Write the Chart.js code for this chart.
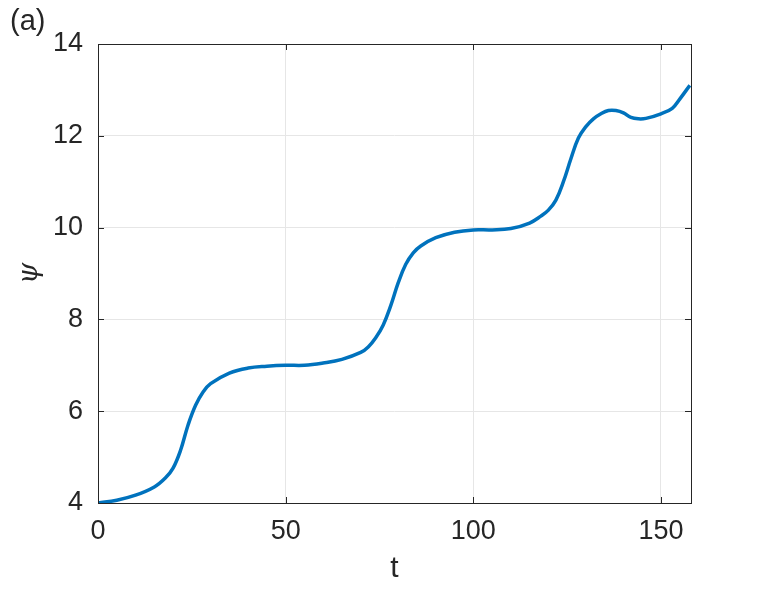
<!DOCTYPE html>
<html>
<head>
<meta charset="utf-8">
<script src="https://cdn.jsdelivr.net/npm/chart.js@4.4.0/dist/chart.umd.min.js"></script>
<style>
  html, body { margin: 0; padding: 0; background: #fff; }
  #wrap { width: 763px; height: 589px; }
</style>
</head>
<body>
<div id="wrap"><canvas id="psiChart" width="763" height="589"></canvas></div>
<script>
// values
var tValues = [0, 5, 10, 15, 18, 20, 22, 24, 26, 28, 30, 35, 40, 45, 50, 55, 60, 65, 70, 72, 74, 76, 78, 80, 82, 84, 86, 90, 95, 100, 105, 110, 115, 118, 120, 122, 124, 126, 128, 130, 132, 134, 136, 138, 140, 142, 144, 146, 150, 153, 155, 157.7];
var psiValues = [4.0, 4.06, 4.17, 4.35, 4.55, 4.76, 5.15, 5.7, 6.13, 6.42, 6.6, 6.83, 6.94, 6.98, 7.0, 7.0, 7.05, 7.13, 7.28, 7.4, 7.6, 7.88, 8.3, 8.8, 9.2, 9.45, 9.6, 9.78, 9.9, 9.95, 9.95, 9.98, 10.1, 10.25, 10.38, 10.6, 11.0, 11.5, 11.95, 12.2, 12.37, 12.48, 12.55, 12.55, 12.5, 12.4, 12.37, 12.38, 12.48, 12.6, 12.8, 13.1];
var xTicks = [0, 50, 100, 150];
var yTicks = [4, 6, 8, 10, 12, 14];

var points = tValues.map(function(t, i) { return {x: t, y: psiValues[i]}; });

var fontFamily = '"Liberation Sans", Arial, Helvetica, sans-serif';
var axisColor = '#262626';

// box around the axes, inward ticks and the texts
var boxPlugin = {
    id: 'matlabBox',
    afterDraw: function(chart) {
        var ctx = chart.ctx;
        var a = chart.chartArea;
        var xs = chart.scales.x, ys = chart.scales.y;
        ctx.save();
        ctx.strokeStyle = axisColor;
        ctx.lineWidth = 1;
        ctx.strokeRect(a.left + 0.5, a.top + 0.5, a.right - a.left, a.bottom - a.top);
        ctx.beginPath();
        xTicks.forEach(function(v) {
            var px = Math.round(xs.getPixelForValue(v)) + 0.5;
            ctx.moveTo(px, a.bottom); ctx.lineTo(px, a.bottom - 6);
            ctx.moveTo(px, a.top); ctx.lineTo(px, a.top + 6);
        });
        yTicks.forEach(function(v) {
            var py = Math.round(ys.getPixelForValue(v)) + 0.5;
            ctx.moveTo(a.left, py); ctx.lineTo(a.left + 6, py);
            ctx.moveTo(a.right, py); ctx.lineTo(a.right - 6, py);
        });
        ctx.stroke();

        ctx.fillStyle = axisColor;
        ctx.textAlign = 'center';
        ctx.textBaseline = 'middle';
        ctx.font = '30px ' + fontFamily;
        ctx.fillText('t', (a.left + a.right) / 2, 569);
        ctx.font = 'italic 27px "DejaVu Serif", serif';
        ctx.save();
        ctx.translate(30, (a.top + a.bottom) / 2);
        ctx.rotate(-Math.PI / 2);
        ctx.fillText('\u03C8', 0, 0);
        ctx.restore();
        ctx.textAlign = 'left';
        ctx.font = '29px ' + fontFamily;
        ctx.fillText('(a)', 10, 22);
        ctx.restore();
    }
};

var ctx = document.getElementById('psiChart').getContext('2d');
var myChart = new Chart(ctx, {
    type: 'line',
    data: {
        datasets: [{
            label: 'psi',
            data: points,
            borderColor: '#0072BD',
            borderWidth: 3.5,
            pointRadius: 0,
            fill: false,
            tension: 0.4
        }]
    },
    options: {
        responsive: false,
        animation: false,
        layout: { padding: { left: 0, right: 72, top: 44, bottom: 0 } },
        plugins: {
            legend: { display: false },
            tooltip: { enabled: false }
        },
        scales: {
            x: {
                type: 'linear',
                min: 0,
                max: 158,
                afterBuildTicks: function(scale) {
                    scale.ticks = xTicks.map(function(v) { return {value: v}; });
                },
                afterFit: function(scale) { scale.height = 86; },
                grid: { color: '#e6e6e6', drawTicks: false },
                border: { display: false },
                ticks: {
                    padding: 12,
                    color: axisColor,
                    font: { family: fontFamily, size: 27 }
                }
            },
            y: {
                min: 4,
                max: 14,
                afterBuildTicks: function(scale) {
                    scale.ticks = yTicks.map(function(v) { return {value: v}; });
                },
                afterFit: function(scale) { scale.width = 98; },
                grid: { color: '#e6e6e6', drawTicks: false },
                border: { display: false },
                ticks: {
                    padding: 15,
                    color: axisColor,
                    font: { family: fontFamily, size: 27 }
                }
            }
        }
    },
    plugins: [boxPlugin]
});
</script>
</body>
</html>
